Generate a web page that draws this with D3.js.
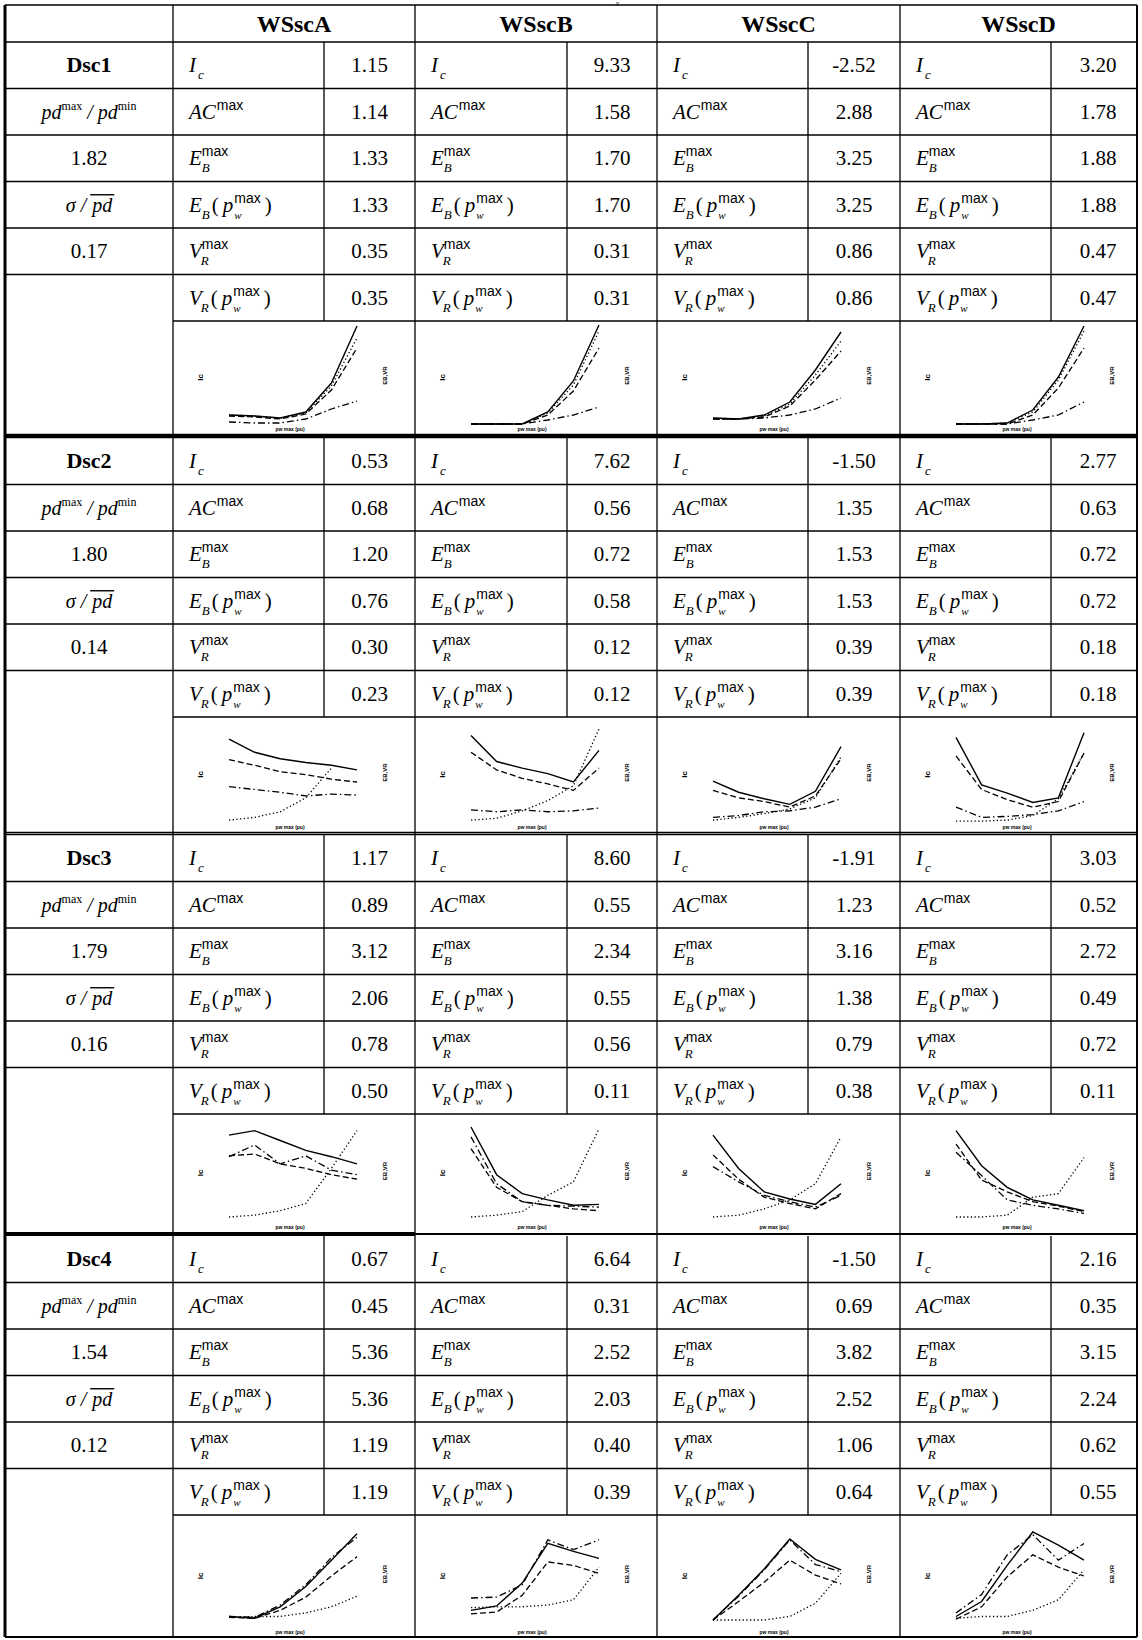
<!DOCTYPE html>
<html><head><meta charset="utf-8">
<script src="https://cdn.jsdelivr.net/npm/d3@7"></script>
<style>body{margin:0;background:#fff}svg{display:block}</style>
</head><body>
<svg id="c" width="1142" height="1640"></svg>
<script>
// ---------------- DATA ----------------
const scenarios = ["WSscA", "WSscB", "WSscC", "WSscD"];
const datasets = ["Dsc1", "Dsc2", "Dsc3", "Dsc4"];
const metrics = ["Ic", "ACmax", "EBmax", "EBp", "VRmax", "VRp"];
const pdRatio = [1.82, 1.80, 1.79, 1.54];
const sigmaRatio = [0.17, 0.14, 0.16, 0.12];

// values[dataset][scenario][metric]
const valuesDsc1 = [[1.15, 1.14, 1.33, 1.33, 0.35, 0.35], [9.33, 1.58, 1.70, 1.70, 0.31, 0.31], [-2.52, 2.88, 3.25, 3.25, 0.86, 0.86], [3.20, 1.78, 1.88, 1.88, 0.47, 0.47]];
const valuesDsc2 = [[0.53, 0.68, 1.20, 0.76, 0.30, 0.23], [7.62, 0.56, 0.72, 0.58, 0.12, 0.12], [-1.50, 1.35, 1.53, 1.53, 0.39, 0.39], [2.77, 0.63, 0.72, 0.72, 0.18, 0.18]];
const valuesDsc3 = [[1.17, 0.89, 3.12, 2.06, 0.78, 0.50], [8.60, 0.55, 2.34, 0.55, 0.56, 0.11], [-1.91, 1.23, 3.16, 1.38, 0.79, 0.38], [3.03, 0.52, 2.72, 0.49, 0.72, 0.11]];
const valuesDsc4 = [[0.67, 0.45, 5.36, 5.36, 1.19, 1.19], [6.64, 0.31, 2.52, 2.03, 0.40, 0.39], [-1.50, 0.69, 3.82, 2.52, 1.06, 0.64], [2.16, 0.35, 3.15, 2.24, 0.62, 0.55]];
const tableValues = [valuesDsc1, valuesDsc2, valuesDsc3, valuesDsc4];

// mini-chart series (relative 0-100), styles: solid, dashed, dotted, dash-dot
const seriesStyles = ["solid", "dashed", "dotted", "dashdot"];
const chartX = [0, 1, 2, 3, 4, 5];
const chartsDsc1 = [
  {solid: [10, 9, 7, 13, 42, 99], dashed: [9, 8, 6, 11, 35, 77], dotted: [10, 9, 7, 12, 39, 87], dashdot: [3, 2, 2, 6, 16, 24]},
  {solid: [1, 1, 1, 13, 44, 100], dashed: [1, 1, 1, 10, 34, 77], dotted: [1, 1, 1, 12, 40, 94], dashdot: [1, 1, 1, 5, 10, 18]},
  {solid: [7, 6, 10, 23, 55, 93], dashed: [6, 6, 8, 19, 45, 74], dotted: [7, 6, 9, 21, 50, 84], dashdot: [6, 6, 7, 10, 16, 27]},
  {solid: [1, 1, 2, 15, 48, 99], dashed: [1, 1, 1, 10, 37, 77], dotted: [1, 1, 2, 13, 45, 94], dashdot: [1, 1, 1, 5, 10, 23]}
];
const chartsDsc2 = [
  {solid: [89, 75, 68, 64, 61, 56], dashed: [67, 61, 54, 51, 46, 43], dotted: [2, 5, 11, 26, 58, null], dashdot: [38, 35, 32, 28, 30, 29]},
  {solid: [93, 65, 58, 52, 43, 77], dashed: [75, 56, 47, 41, 34, 58], dotted: [2, 4, 12, 23, 39, 100], dashdot: [13, 11, 13, 11, 12, 15]},
  {solid: [44, 32, 25, 19, 33, 81], dashed: [34, 26, 22, 16, 28, 68], dotted: [2, 5, 9, 14, 26, 70], dashdot: [5, 7, 11, 12, 16, 25]},
  {solid: [91, 40, 31, 21, 26, 96], dashed: [71, 35, 24, 16, 22, 74], dotted: [1, 1, 2, 7, 25, 74], dashdot: [16, 5, 6, 8, 12, 22]}
];
const chartsDsc3 = [
  {solid: [91, 96, 85, 74, 67, 59], dashed: [68, 70, 59, 54, 47, 42], dotted: [0, 2, 7, 15, 54, 96], dashdot: [67, 80, 59, 68, 52, 47]},
  {solid: [100, 47, 26, 19, 13, 14], dashed: [76, 33, 17, 13, 9, 7], dotted: [0, 2, 6, 24, 39, 98], dashdot: [89, 37, 17, 13, 12, 11]},
  {solid: [91, 54, 28, 20, 14, 37], dashed: [69, 42, 22, 15, 9, 26], dotted: [0, 2, 9, 19, 37, 89], dashdot: [56, 39, 24, 17, 11, 24]},
  {solid: [96, 57, 33, 19, 13, 7], dashed: [81, 41, 28, 17, 12, 6], dotted: [0, 0, 2, 22, 26, 66], dashdot: [72, 46, 19, 13, 9, 4]}
];
const chartsDsc4 = [
  {solid: [4, 2, 15, 38, 68, 98], dashed: [3, 2, 11, 26, 50, 72], dotted: [3, 4, 4, 8, 15, 27], dashdot: [4, 3, 17, 40, 71, 94]},
  {solid: [11, 16, 42, 87, 78, 70], dashed: [7, 9, 28, 66, 62, 53], dotted: [14, 15, 15, 17, 23, 60], dashdot: [25, 26, 40, 91, 80, 91]},
  {solid: [0, 28, 58, 92, 69, 57], dashed: [0, 21, 43, 68, 51, 41], dotted: [0, 0, 0, 4, 19, 53], dashdot: [0, 27, 57, 91, 63, 55]},
  {solid: [4, 21, 62, 100, 85, 68], dashed: [1, 15, 49, 74, 60, 50], dotted: [2, 4, 4, 11, 23, 57], dashdot: [8, 29, 74, 97, 68, 87]}
];
const chartData = [chartsDsc1, chartsDsc2, chartsDsc3, chartsDsc4];

// ---------------- LAYOUT ----------------
const SERIF = "'Liberation Serif','Times New Roman',serif";
const SANS = "'Liberation Sans',Arial,sans-serif";
const colX = [5, 173, 324, 415, 567, 657, 808, 900, 1051, 1137];
const headerTop = 5, headerBot = 42;
const blockTop = [42, 438, 835, 1236];
const blockBot = [434, 832, 1232, 1637];
const rowH = 46.5;
const plotPadTop = [4, 12, 13, 17];
const plotPadBot = [9, 10, 15, 17];
const valShift = [0, 0, 0, 4];
const FS = 21, SUB = 13, SUP = 14;

const svg = d3.select("#c");
const gLines = svg.append("g");
const gText = svg.append("g");
const gCharts = svg.append("g");

function hline(x1, x2, y, w) { gLines.append("line").attr("x1", x1).attr("x2", x2).attr("y1", y).attr("y2", y).attr("stroke", "#000").attr("stroke-width", w || 1.3); }
function vline(x, y1, y2, w) { gLines.append("line").attr("x1", x).attr("x2", x).attr("y1", y1).attr("y2", y2).attr("stroke", "#000").attr("stroke-width", w || 1.3); }

function rich(g, x0, y, parts) {
  let x = x0, pend = 0;
  parts.forEach(p => {
    const t = g.append("text").attr("x", x + (p.dx || 0)).attr("y", y + (p.off || 0))
      .style("font-family", p.sans ? SANS : SERIF).style("font-size", p.fs + "px")
      .style("font-style", p.it ? "italic" : "normal").style("font-weight", p.b ? "bold" : "normal")
      .attr("fill", "#000").text(p.t);
    const w = t.node().getComputedTextLength() + (p.dx || 0);
    if (p.stack) { pend = Math.max(pend, w); }
    else { x += Math.max(pend, w) + (p.after || 0); pend = 0; }
  });
  return x - x0;
}
function richCentered(cx, y, parts) {
  const g = gText.append("g");
  const w = rich(g, 0, y, parts);
  g.attr("transform", `translate(${cx - w / 2},0)`);
  return g;
}

const labelParts = {
  Ic: [{t: "I", fs: FS, it: 1, after: 2}, {t: "c", fs: SUB, it: 1, off: 7}],
  ACmax: [{t: "AC", fs: FS, it: 1, after: 1}, {t: "max", fs: SUP, sans: 1, off: -9}],
  EBmax: [{t: "E", fs: FS, it: 1}, {t: "B", fs: SUB, it: 1, off: 7, stack: 1}, {t: "max", fs: SUP, sans: 1, off: -9}],
  EBp: [{t: "E", fs: FS, it: 1}, {t: "B", fs: SUB, it: 1, off: 7, after: 2}, {t: "(", fs: FS, after: 4}, {t: "p", fs: FS, it: 1, after: 1}, {t: "w", fs: SUB - 2, it: 1, off: 7, stack: 1}, {t: "max", fs: SUP, sans: 1, off: -9, after: 4}, {t: ")", fs: FS}],
  VRmax: [{t: "V", fs: FS, it: 1}, {t: "R", fs: SUB, it: 1, off: 7, dx: -1, stack: 1}, {t: "max", fs: SUP, sans: 1, off: -9}],
  VRp: [{t: "V", fs: FS, it: 1}, {t: "R", fs: SUB, it: 1, off: 7, dx: -1, after: 2}, {t: "(", fs: FS, after: 4}, {t: "p", fs: FS, it: 1, after: 1}, {t: "w", fs: SUB - 2, it: 1, off: 7, stack: 1}, {t: "max", fs: SUP, sans: 1, off: -9, after: 4}, {t: ")", fs: FS}]
};
const fmt = v => v.toFixed(2);

// caption remnant above the table
gText.append("text").attr("x", 616).attr("y", 5).attr("fill", "#000").style("font-family", SERIF).style("font-style", "italic")
  .style("font-size", "7px").text("y");

// ---------------- HEADER ----------------
hline(colX[0], colX[9], headerTop, 1.6);
hline(colX[0], colX[9], headerBot, 1.3);
scenarios.forEach((s, i) => {
  const cx = (colX[1 + 2 * i] + colX[3 + 2 * i]) / 2;
  gText.append("text").attr("x", cx).attr("y", (headerTop + headerBot) / 2 + 8).attr("text-anchor", "middle")
    .style("font-family", SERIF).style("font-size", "24px").style("font-weight", "bold").text(s);
});

// ---------------- VERTICAL LINES ----------------
vline(colX[0], headerTop, blockBot[3], 3);
vline(colX[9], headerTop, blockBot[3], 2);
[1, 3, 5, 7].forEach(c => vline(colX[c], headerTop, blockBot[3], 1.3));

// ---------------- BLOCKS ----------------
datasets.forEach((ds, b) => {
  const top = blockTop[b];
  const rowsEnd = top + 6 * rowH;
  [2, 4, 6, 8].forEach(c => vline(colX[c], top, rowsEnd, 1.3));
  for (let k = 1; k <= 5; k++) hline(colX[0], colX[9], top + k * rowH, 1.3);
  hline(colX[1], colX[9], rowsEnd, 1.3);

  const cy = k => top + (k + 0.5) * rowH + 7;
  const c1 = (colX[0] + colX[1]) / 2;
  gText.append("text").attr("x", c1).attr("y", cy(0)).attr("text-anchor", "middle")
    .style("font-family", SERIF).style("font-size", "22px").style("font-weight", "bold").text(ds);
  richCentered(c1, cy(1), [{t: "pd", fs: 20, it: 1}, {t: "max", fs: 12, off: -9, after: 5}, {t: "/", fs: 20, it: 1, after: 5}, {t: "pd", fs: 20, it: 1}, {t: "min", fs: 12, off: -9}]);
  gText.append("text").attr("x", c1).attr("y", cy(2)).attr("text-anchor", "middle")
    .style("font-family", SERIF).style("font-size", FS + "px").text(fmt(pdRatio[b]));
  const sg = richCentered(c1, cy(3), [{t: "σ", fs: 20, it: 1, after: 5}, {t: "/", fs: 20, it: 1, after: 6}, {t: "pd", fs: 20, it: 1}]);
  {
    const nodes = sg.selectAll("text").nodes();
    const bb = nodes[nodes.length - 1].getBBox();
    sg.append("line").attr("x1", bb.x).attr("x2", bb.x + bb.width + 1).attr("y1", cy(3) - 17).attr("y2", cy(3) - 17)
      .attr("stroke", "#000").attr("stroke-width", 1.4);
  }
  gText.append("text").attr("x", c1).attr("y", cy(4)).attr("text-anchor", "middle")
    .style("font-family", SERIF).style("font-size", FS + "px").text(fmt(sigmaRatio[b]));

  scenarios.forEach((s, i) => {
    const xl = colX[1 + 2 * i], xd = colX[2 + 2 * i], xr = colX[3 + 2 * i];
    metrics.forEach((m, k) => {
      rich(gText.append("g"), xl + 16, cy(k), labelParts[m]);
      gText.append("text").attr("x", (xd + xr) / 2 + valShift[i]).attr("y", cy(k)).attr("text-anchor", "middle")
        .style("font-family", SERIF).style("font-size", FS + "px").text(fmt(tableValues[b][i][k]));
    });

    // mini chart
    const chTop = rowsEnd, chBot = blockBot[b];
    const x = d3.scaleLinear().domain(d3.extent(chartX)).range([xl + 56, xl + 184]);
    const y = d3.scaleLinear().domain([0, 100]).range([chBot - plotPadBot[b], chTop + plotPadTop[b]]);
    const g = gCharts.append("g");
    const dashes = {solid: null, dashed: "6,3", dotted: "1.3,2.4", dashdot: "7,3,1.5,3"};
    seriesStyles.forEach(st => {
      const vals = chartData[b][i][st];
      const line = d3.line().defined(d => d[1] != null).x(d => x(d[0])).y(d => y(d[1]));
      g.append("path").datum(chartX.map((xv, j) => [xv, vals[j]]))
        .attr("d", line).attr("fill", "none").attr("stroke", "#000")
        .attr("stroke-width", st === "solid" ? 1.4 : 1.3)
        .attr("stroke-dasharray", dashes[st]);
    });
    const midY = (chTop + chBot) / 2;
    g.append("text").attr("transform", `translate(${xl + 30},${midY}) rotate(-90)`).attr("text-anchor", "middle")
      .style("font-family", SANS).style("font-size", "8px").style("font-weight", "bold").text("Ic");
    g.append("text").attr("transform", `translate(${xl + 214},${midY - 2}) rotate(-90)`).attr("text-anchor", "middle")
      .style("font-family", SANS).style("font-size", "6px").style("font-weight", "bold").text("EB,VR");
    g.append("text").attr("x", xl + 117).attr("y", chBot - 3).attr("text-anchor", "middle")
      .style("font-family", SANS).style("font-size", "5px").style("font-weight", "bold").text("pw max (pu)");
  });
});

// ---------------- BLOCK SEPARATORS ----------------
hline(colX[0], colX[9], (blockBot[0] + blockTop[1]) / 2, 4.5);
hline(colX[0], colX[9], blockBot[1] + 0.5, 1.4);
hline(colX[0], colX[9], blockTop[2] - 0.5, 1.4);
hline(colX[0], colX[3], (blockBot[2] + blockTop[3]) / 2, 4);
hline(colX[3], colX[9], (blockBot[2] + blockTop[3]) / 2, 2);
hline(colX[0], colX[9], blockBot[3], 2);
</script>
</body></html>
